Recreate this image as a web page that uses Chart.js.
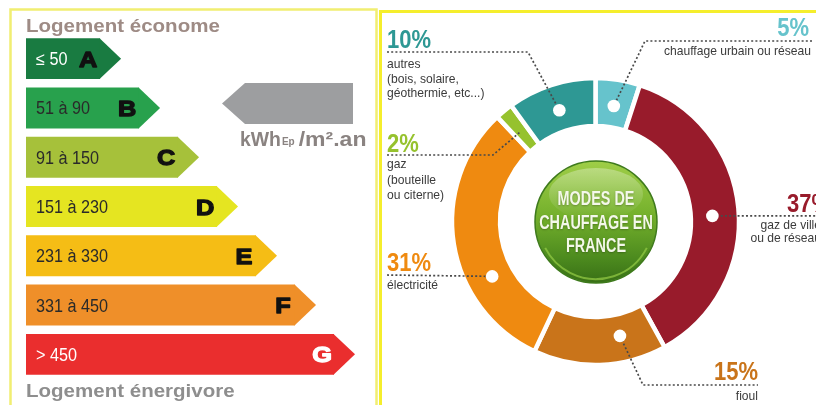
<!DOCTYPE html>
<html><head><meta charset="utf-8">
<script src="https://cdn.jsdelivr.net/npm/chart.js@4/dist/chart.umd.min.js"></script>
<style>
html,body{margin:0;padding:0;background:#fff;width:816px;height:405px;overflow:hidden}
canvas{position:absolute;left:0;top:0}
</style></head><body>
<canvas id="label" width="816" height="405"></canvas>
<canvas id="modes" width="816" height="405"></canvas>
<script>
// ---------- data ----------
const ratingLetters = ['A', 'B', 'C', 'D', 'E', 'F', 'G'];
const ratingRanges = ['≤ 50', '51 à 90', '91 à 150', '151 à 230', '231 à 330', '331 à 450', '> 450'];
const ratingBarLength = [1, 2, 3, 4, 5, 6, 7];
const ratingColors = ['#197b41', '#28a14d', '#a6c13a', '#e5e521', '#f5bd15', '#ef8f29', '#ea2e2e'];
const ratingTitles = ['Logement économe', 'Logement énergivore'];
const unitText = ['kWh', 'Ep', '/m².an'];

const heatingModes = ['chauffage urbain ou réseau', 'gaz de ville ou de réseau', 'fioul', 'électricité', 'gaz (bouteille ou citerne)', 'autres (bois, solaire, géothermie, etc...)'];
const heatingShares = [5, 37, 15, 31, 2, 10];
const heatingColors = ['#66c3cc', '#981b2b', '#c9741a', '#ef8a10', '#96c22e', '#2e9894'];
const heatingNotes = [['chauffage urbain ou réseau'], ['gaz de ville', 'ou de réseau'], ['fioul'], ['électricité'], ['gaz', '(bouteille', 'ou citerne)'], ['autres', '(bois, solaire,', 'géothermie, etc...)']];
const centerTitle = ['MODES DE', 'CHAUFFAGE EN', 'FRANCE'];

// ---------- helpers ----------
const SANS = '"Liberation Sans", Arial, sans-serif';
function txt(ctx, s, x, y, font, color, align, sx, stroke) {
  ctx.save();
  ctx.font = font; ctx.fillStyle = color; ctx.textAlign = align || 'left'; ctx.textBaseline = 'alphabetic';
  ctx.translate(x, y); ctx.scale(sx || 1, 1);
  ctx.fillText(s, 0, 0);
  if (stroke) { ctx.strokeStyle = color; ctx.lineWidth = stroke; ctx.lineJoin = 'round'; ctx.strokeText(s, 0, 0); }
  const w = ctx.measureText(s).width * (sx || 1);
  ctx.restore();
  return w;
}
function dotted(ctx, pts) {
  ctx.save();
  ctx.strokeStyle = '#4a4a4a'; ctx.lineWidth = 1.7; ctx.setLineDash([2, 2.2]);
  ctx.beginPath();
  pts.forEach((p, i) => i ? ctx.lineTo(p[0], p[1]) : ctx.moveTo(p[0], p[1]));
  ctx.stroke();
  ctx.restore();
}

// ---------- energy label ----------
const labelPlugin = {
  id: 'labelDeco',
  beforeDraw(chart) {
    const ctx = chart.ctx;
    ctx.save();
    ctx.strokeStyle = '#f1ee72'; ctx.lineWidth = 2.5;
    ctx.strokeRect(10.5, 9.5, 366, 430);
    ctx.restore();
  },
  afterDatasetsDraw(chart) {
    const ctx = chart.ctx;
    const meta = chart.getDatasetMeta(0);
    meta.data.forEach((bar, i) => {
      const p = bar.getProps(['x', 'y', 'base', 'height'], true);
      const top = p.y - p.height / 2, bottom = p.y + p.height / 2;
      ctx.save();
      ctx.fillStyle = ratingColors[i];
      ctx.beginPath();
      ctx.moveTo(p.x - 0.5, top); ctx.lineTo(p.x + 21, p.y); ctx.lineTo(p.x - 0.5, bottom);
      ctx.closePath(); ctx.fill();
      ctx.restore();
      const light = (i === 0 || i === ratingLetters.length - 1);
      txt(ctx, ratingRanges[i], p.base + 10, p.y + 6.5, `18px ${SANS}`, light ? '#ffffff' : '#2a2a2a', 'left', 0.9);
      txt(ctx, ratingLetters[i], p.x - 12, p.y + 8, `bold 22px ${SANS}`, i === ratingLetters.length - 1 ? '#ffffff' : '#111111', 'center', 1.15, 1.3);
    });
    // titles
    txt(ctx, ratingTitles[0], 26, 32, `bold 19px ${SANS}`, '#9e8b85', 'left', 1.08);
    txt(ctx, ratingTitles[1], 26, 397, `bold 19px ${SANS}`, '#8e8e8e', 'left', 1.08);
    // grey pointer
    ctx.save();
    ctx.fillStyle = '#9d9ea0';
    ctx.beginPath();
    ctx.moveTo(222, 103.5); ctx.lineTo(245, 83); ctx.lineTo(353, 83); ctx.lineTo(353, 124); ctx.lineTo(245, 124);
    ctx.closePath(); ctx.fill();
    ctx.restore();
    let x = 240;
    x += txt(ctx, unitText[0], x, 146, `bold 20px ${SANS}`, '#8a8381', 'left', 0.97) + 1;
    x += txt(ctx, unitText[1], x, 145, `bold 10px ${SANS}`, '#8a8381', 'left', 1) + 4;
    txt(ctx, unitText[2], x, 146, `bold 20px ${SANS}`, '#8a8381', 'left', 1.15);
  }
};

new Chart(document.getElementById('label'), {
  type: 'bar',
  data: {
    labels: ratingLetters,
    datasets: [{
      data: ratingBarLength,
      base: -0.9,
      backgroundColor: ratingColors,
      borderWidth: 0,
      barPercentage: 0.83,
      categoryPercentage: 1
    }]
  },
  options: {
    indexAxis: 'y',
    responsive: false,
    animation: false,
    devicePixelRatio: 1,
    layout: { padding: { left: 26, right: 443, top: 34, bottom: 26 } },
    plugins: { legend: { display: false }, tooltip: { enabled: false } },
    scales: {
      x: { type: 'linear', min: -0.9, max: 8, display: false },
      y: { display: false }
    }
  },
  plugins: [labelPlugin]
});

// ---------- doughnut ----------
const DOT_R = 117;
const dotFraction = [0.5, 0.52, 0.31, 0.33, 0.5, 0.5];
const modesPlugin = {
  id: 'modesDeco',
  beforeDraw(chart) {
    const ctx = chart.ctx;
    ctx.save();
    ctx.strokeStyle = '#f5ee2c'; ctx.lineWidth = 3;
    ctx.beginPath(); ctx.moveTo(380.5, 430); ctx.lineTo(380.5, 11.5); ctx.lineTo(830, 11.5); ctx.stroke();
    ctx.restore();
  },
  afterDatasetsDraw(chart) {
    const ctx = chart.ctx;
    const arcs = chart.getDatasetMeta(0).data;
    const cx = arcs[0].x, cy = arcs[0].y;

    // central green button
    const R = 61, gx = cx + 0.5, gy = cy + 0.5;
    ctx.save();
    let g = ctx.createLinearGradient(0, gy - R, 0, gy + R);
    g.addColorStop(0, '#9fce47'); g.addColorStop(0.45, '#74b02c'); g.addColorStop(0.8, '#4c8a1e'); g.addColorStop(1, '#386f16');
    ctx.fillStyle = g;
    ctx.beginPath(); ctx.arc(gx, gy, R, 0, Math.PI * 2); ctx.fill();
    ctx.strokeStyle = '#3e7a1c'; ctx.lineWidth = 1.5; ctx.stroke();
    // gloss
    ctx.beginPath(); ctx.ellipse(gx, gy - 28, 47, 26, 0, 0, Math.PI * 2);
    const hg = ctx.createLinearGradient(0, gy - 54, 0, gy - 2);
    hg.addColorStop(0, 'rgba(255,255,255,0.32)'); hg.addColorStop(1, 'rgba(255,255,255,0)');
    ctx.fillStyle = hg; ctx.fill();
    // bottom rim
    ctx.beginPath(); ctx.arc(gx, gy, R - 4, Math.PI * 0.15, Math.PI * 0.85);
    ctx.strokeStyle = 'rgba(150,205,70,0.7)'; ctx.lineWidth = 2; ctx.stroke();
    ctx.restore();
    ctx.save();
    ctx.shadowColor = 'rgba(0,0,0,0.25)'; ctx.shadowBlur = 2; ctx.shadowOffsetY = 1;
    txt(ctx, centerTitle[0], gx, cy - 16.5, `bold 20px ${SANS}`, '#f4f8ea', 'center', 0.72);
    txt(ctx, centerTitle[1], gx, cy + 7.5, `bold 20px ${SANS}`, '#f4f8ea', 'center', 0.72);
    txt(ctx, centerTitle[2], gx, cy + 30.5, `bold 20px ${SANS}`, '#f4f8ea', 'center', 0.72);
    ctx.restore();

    // anchor points on the ring
    const pts = arcs.map((a, i) => {
      const ang = a.startAngle + dotFraction[i] * (a.endAngle - a.startAngle);
      return [cx + DOT_R * Math.cos(ang), cy + DOT_R * Math.sin(ang)];
    });

    // leader lines
    dotted(ctx, [[812, 41], [645, 41], pts[0]]);
    dotted(ctx, [pts[1], [830, pts[1][1]]]);
    dotted(ctx, [pts[2], [643, 385], [758, 385]]);
    dotted(ctx, [[387, 275], pts[3]]);
    dotted(ctx, [[387, 155], [493, 155], pts[4]]);
    dotted(ctx, [[387, 52], [528, 52], pts[5]]);

    // white dots
    ctx.save(); ctx.fillStyle = '#ffffff';
    [0, 1, 2, 3, 5].forEach(i => { ctx.beginPath(); ctx.arc(pts[i][0], pts[i][1], 6.3, 0, Math.PI * 2); ctx.fill(); });
    ctx.restore();

    // labels
    const PF = `bold 25px ${SANS}`, NF = `13px ${SANS}`, NC = '#3b3b3b';
    const pct = i => heatingShares[i] + '%';
    txt(ctx, pct(0), 809, 36, PF, heatingColors[0], 'right', 0.88);
    txt(ctx, heatingNotes[0][0], 811, 55, NF, NC, 'right', 0.93);

    txt(ctx, pct(1), 787, 212, PF, heatingColors[1], 'left', 0.88);
    txt(ctx, heatingNotes[1][0], 821, 229, NF, NC, 'right', 0.93);
    txt(ctx, heatingNotes[1][1], 821, 242, NF, NC, 'right', 0.93);

    txt(ctx, pct(2), 758, 380, PF, heatingColors[2], 'right', 0.88);
    txt(ctx, heatingNotes[2][0], 758, 400, NF, NC, 'right', 0.93);

    txt(ctx, pct(3), 387, 271, PF, heatingColors[3], 'left', 0.88);
    txt(ctx, heatingNotes[3][0], 387, 289, NF, NC, 'left', 0.93);

    txt(ctx, pct(4), 387, 152, PF, heatingColors[4], 'left', 0.88);
    [168, 184, 199].forEach((y, k) => txt(ctx, heatingNotes[4][k], 387, y, NF, NC, 'left', 0.93));

    txt(ctx, pct(5), 387, 48, PF, heatingColors[5], 'left', 0.88);
    [68, 83, 97].forEach((y, k) => txt(ctx, heatingNotes[5][k], 387, y, NF, NC, 'left', 0.93));
  }
};

new Chart(document.getElementById('modes'), {
  type: 'doughnut',
  data: {
    labels: heatingModes,
    datasets: [{
      data: heatingShares,
      backgroundColor: heatingColors,
      borderColor: '#ffffff',
      borderWidth: 4.5,
      borderAlign: 'center'
    }]
  },
  options: {
    responsive: false,
    animation: false,
    devicePixelRatio: 1,
    radius: 143.5,
    cutout: '66.5%',
    rotation: 0,
    layout: { padding: { left: 380, right: 5, top: 40, bottom: 2 } },
    plugins: { legend: { display: false }, tooltip: { enabled: false } }
  },
  plugins: [modesPlugin]
});
</script>
</body></html>
